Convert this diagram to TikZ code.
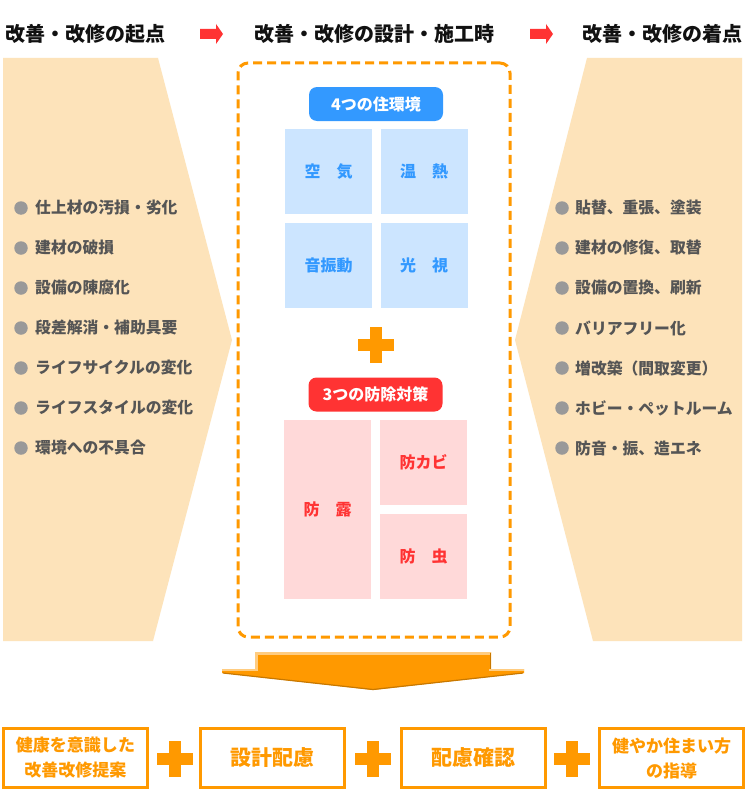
\documentclass[tikz,border=0pt]{standalone}
\usepackage{fontspec}
\newfontfamily\jp{Noto Sans CJK JP}
\definecolor{panel}{HTML}{FDE3BA}
\definecolor{org}{HTML}{FF9900}
\definecolor{orgdark}{HTML}{C87800}
\definecolor{orglight}{HTML}{FFCC80}
\definecolor{bluel}{HTML}{3399FF}
\definecolor{bluebg}{HTML}{CCE5FF}
\definecolor{redl}{HTML}{FF3333}
\definecolor{pinkbg}{HTML}{FFD9D9}
\definecolor{itemgray}{HTML}{555555}
\definecolor{bulletgray}{HTML}{999999}
\definecolor{titleblack}{HTML}{111111}
\tikzset{
  every node/.style={font=\jp\bfseries, inner sep=0pt},
  titletext/.style={font=\jp\bfseries\fontsize{20}{22}\selectfont, text=titleblack},
  itemtext/.style={anchor=west, font=\jp\bfseries\fontsize{15.8}{18}\selectfont, text=itemgray},
  bulletdot/.style={circle, fill=bulletgray, minimum size=13.5pt},
  bluebox/.style={fill=bluebg, minimum width=87pt, minimum height=85pt, text=bluel, font=\jp\bfseries\fontsize{16}{18}\selectfont},
  pinkbox/.style={fill=pinkbg, minimum width=87pt, text=redl, font=\jp\bfseries\fontsize{16}{18}\selectfont},
  labelbox/.style={rounded corners=8pt, minimum width=134pt, minimum height=34pt, text=white, font=\jp\bfseries\fontsize{16}{18}\selectfont},
  resultbox/.style={draw=org, line width=3pt, fill=white, minimum width=144pt, minimum height=59pt, text=org, align=center},
  headarrow/.style={fill=redl},
  plussign/.pic={\fill[org] (-6,-18) rectangle (6,18); \fill[org] (-18,-6) rectangle (18,6);}
}
\begin{document}
\begin{tikzpicture}[x=1pt,y=-1pt]
\useasboundingbox (0,0) rectangle (747,800);
\fill[white] (0,0) rectangle (747,800);

% side panels
\fill[panel] (3,58) -- (158,58) -- (232,340) -- (153,641) -- (3,641) -- cycle;
\fill[panel] (742,58) -- (587,58) -- (515,340) -- (593,641) -- (742,641) -- cycle;

% header
\node[titletext, anchor=west] (t1) at (5,34) {改善・改修の起点};
\node[titletext] (t2) at (374.5,34) {改善・改修の設計・施工時};
\node[titletext, anchor=east] (t3) at (743,34) {改善・改修の着点};
\fill[headarrow] (200,29) -- (216,29) -- (216,24) -- (223,34) -- (216,44) -- (216,39) -- (200,39) -- cycle;
\fill[headarrow] (530,29) -- (546,29) -- (546,24) -- (553,34) -- (546,44) -- (546,39) -- (530,39) -- cycle;

% left items
\foreach \txt [count=\i] in {仕上材の汚損・劣化,建材の破損,設備の陳腐化,段差解消・補助具要,ライフサイクルの変化,ライフスタイルの変化,環境への不具合}{
  \node[bulletdot] (lb\i) at (21,{208+40*(\i-1)}) {};
  \node[itemtext] (li\i) at (35,{208+40*(\i-1)}) {\txt};
}
% right items
\foreach \txt [count=\i] in {貼替、重張、塗装,建材の修復、取替,設備の置換、刷新,バリアフリー化,増改築（間取変更）,ホビー・ペットルーム,防音・振、造エネ}{
  \node[bulletdot] (rb\i) at (562,{208+40*(\i-1)}) {};
  \node[itemtext] (ri\i) at (575,{208+40*(\i-1)}) {\txt};
}

% central dashed frame
\node[draw=org, line width=3pt, dash pattern=on 9pt off 5pt, rounded corners=10pt, minimum width=272pt, minimum height=574pt] (frame) at (374,350) {};

% four environments
\node[labelbox, fill=bluel] (envlabel) at (376,104) {4つの住環境};
\node[bluebox] (air) at (328.5,171.5) {空　気};
\node[bluebox] (heat) at (424,171.5) {温　熱};
\node[bluebox] (sound) at (328.5,265) {音振動};
\node[bluebox] (light) at (424,265) {光　視};

\pic at (375.5,345) {plussign};

% three countermeasures
\node[labelbox, fill=redl] (ctrlabel) at (375.5,394.5) {3つの防除対策};
\node[pinkbox, minimum height=179pt] (dew) at (327.5,509.5) {防　露};
\node[pinkbox, minimum height=85pt] (mold) at (423.5,462.5) {防カビ};
\node[pinkbox, minimum height=85pt] (bug) at (423.5,556.5) {防　虫};

% big arrow
\fill[org] (255,652) -- (491,652) -- (491,669) -- (524,669) -- (524,673) -- (373,690) -- (222,673) -- (222,669) -- (255,669) -- cycle;
\fill[orglight] (255,652) rectangle (491,654.5);
\fill[orglight] (255,652) rectangle (257.5,669);
\fill[orglight] (222,669) rectangle (257.5,671);
\fill[orglight] (489,669) rectangle (524,671);
\draw[orgdark, line width=1.2pt] (490.5,652.5) -- (490.5,669);
\draw[orgdark, line width=1.2pt] (223,673) -- (373,689.5) -- (523,673);

% results
\node[resultbox, font=\jp\bfseries\fontsize{17}{25}\selectfont] (r1) at (75.5,758) {健康を意識した\\改善改修提案};
\node[resultbox, font=\jp\bfseries\fontsize{21}{24}\selectfont] (r2) at (272.5,758) {設計配慮};
\node[resultbox, font=\jp\bfseries\fontsize{21}{24}\selectfont] (r3) at (473,758) {配慮確認};
\node[resultbox, font=\jp\bfseries\fontsize{17}{25}\selectfont] (r4) at (671.5,758) {健やか住まい方\\の指導};
\pic at (175,759) {plussign};
\pic at (372.5,759) {plussign};
\pic at (571.5,759) {plussign};
\end{tikzpicture}
\end{document}
